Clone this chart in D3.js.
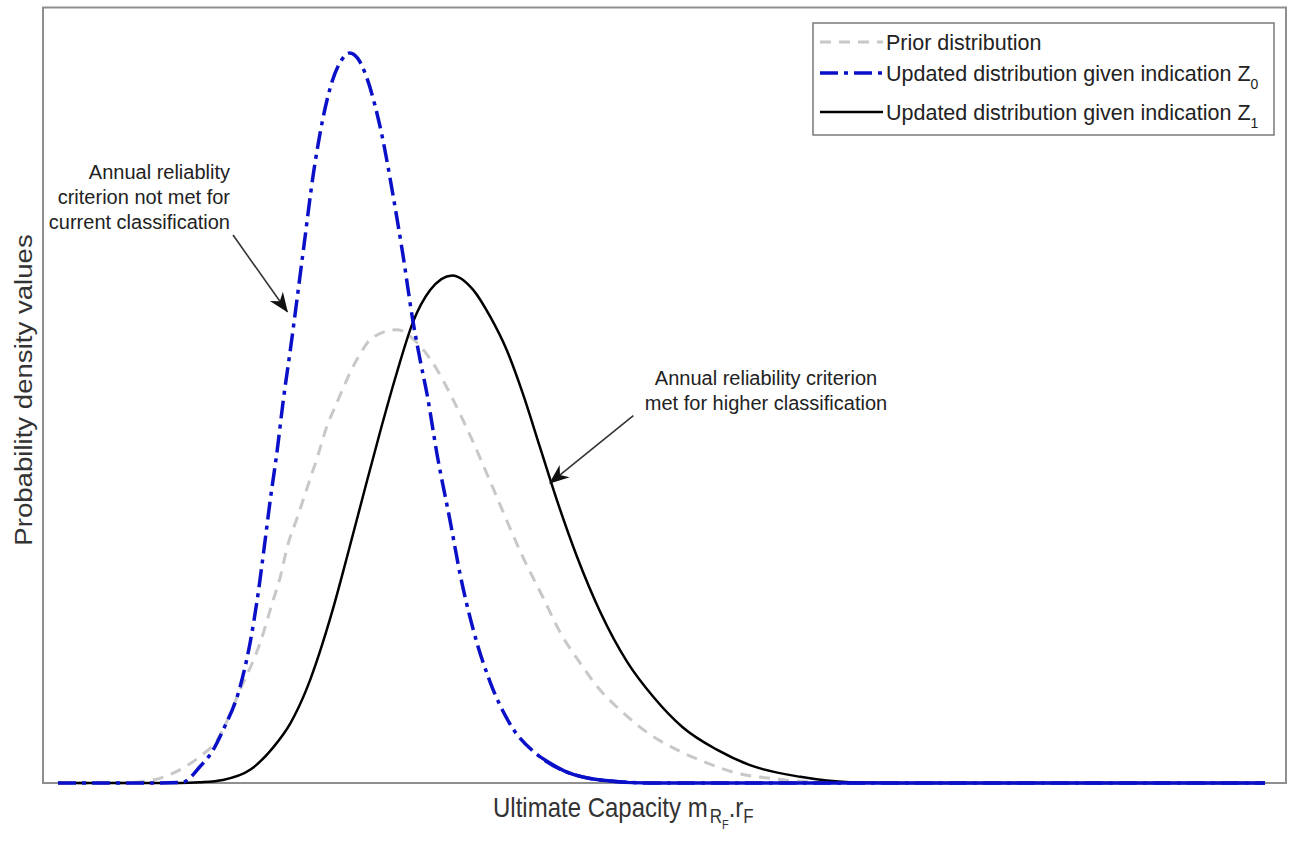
<!DOCTYPE html>
<html><head><meta charset="utf-8">
<script src="https://cdn.jsdelivr.net/npm/d3@7"></script>
<style>
html,body{margin:0;padding:0;background:#fff;}
svg{display:block;font-family:"Liberation Sans",Arial,Helvetica,sans-serif;}
</style></head>
<body>
<svg id="chart" width="1290" height="841"></svg>
<script>
// ---- data ----
const priorX = [0,0.62,0.91,1.21,1.41,1.58,1.81,2.01,2.13,2.21,2.28,2.38,2.48,2.58,2.67,2.77,2.97,3.13,3.37,3.57,3.77,3.93,4.13,4.32,4.49,4.62,4.82,4.99,5.19,5.39,5.59,5.86,6.15,6.45,6.71,7.08,7.58,8.07,12];
const priorY = [0,0,0.003,0.017,0.034,0.055,0.120,0.181,0.232,0.266,0.305,0.343,0.382,0.421,0.459,0.490,0.546,0.575,0.585,0.568,0.533,0.494,0.439,0.382,0.330,0.292,0.240,0.195,0.155,0.120,0.094,0.065,0.043,0.026,0.014,0.006,0.001,0,0];

const z0X = [0,1.0,1.24,1.41,1.53,1.64,1.81,1.91,1.98,2.06,2.11,2.18,2.24,2.31,2.44,2.54,2.63,2.73,2.82,2.90,2.98,3.07,3.15,3.23,3.33,3.43,3.53,3.60,3.67,3.77,3.90,4.00,4.13,4.30,4.49,4.79,5.06,5.39,5.89,12];
const z0Y = [0,0,0.001,0.021,0.040,0.068,0.124,0.181,0.236,0.314,0.365,0.430,0.494,0.559,0.688,0.787,0.855,0.907,0.933,0.942,0.935,0.910,0.875,0.830,0.759,0.681,0.595,0.546,0.501,0.423,0.337,0.268,0.197,0.129,0.077,0.034,0.014,0.004,0,0];

const z1X = [0,1.21,1.41,1.64,1.91,2.14,2.31,2.48,2.60,2.73,2.87,3.03,3.20,3.37,3.53,3.70,3.92,4.13,4.30,4.46,4.62,4.79,4.96,5.16,5.39,5.66,5.92,6.21,6.55,6.88,7.38,7.87,8.37,12];
const z1Y = [0,0,0.001,0.004,0.017,0.046,0.077,0.124,0.168,0.223,0.290,0.369,0.452,0.530,0.595,0.636,0.655,0.636,0.601,0.559,0.503,0.434,0.365,0.292,0.221,0.156,0.111,0.072,0.043,0.023,0.008,0.001,0,0];

const legendLabels = ["Prior distribution", "Updated distribution given indication Z", "Updated distribution given indication Z"];
const legendSubs = ["", "0", "1"];
const xLabel = "Ultimate Capacity m";
const yLabel = "Probability density values";
const note1 = ["Annual reliablity", "criterion not met for", "current classification"];
const note2 = ["Annual reliability criterion", "met for higher classification"];
// annotation anchors in data units [x, y]
const note1Arrow = {from:[1.74, 0.707], to:[2.28, 0.608]};
const note2Arrow = {from:[5.72, 0.474], to:[4.89, 0.387]};

// ---- layout ----
const svg = d3.select("#chart");
const frame = {left:43, right:1286, top:7.5, bottom:783};
const x = d3.scaleLinear().domain([0,12]).range([58,1265]);
const y = d3.scaleLinear().domain([0,1]).range([783,8]);

const defs = svg.append("defs");
defs.append("marker").attr("id","arr").attr("viewBox","0 0 20 20")
  .attr("refX",19).attr("refY",10).attr("markerWidth",20).attr("markerHeight",20)
  .attr("markerUnits","userSpaceOnUse").attr("orient","auto")
  .append("path").attr("d","M0,2 L20,10 L0,18 L6,10 Z").attr("fill","#111");

// frame
svg.append("rect").attr("x",frame.left).attr("y",frame.top)
  .attr("width",frame.right-frame.left).attr("height",frame.bottom-frame.top)
  .attr("fill","none").attr("stroke","#8f8f8f").attr("stroke-width",2);

const line = d3.line().x(d=>x(d[0])).y(d=>y(d[1])).curve(d3.curveMonotoneX);
const zip = (a,b)=>a.map((v,i)=>[v,b[i]]);
const prior = zip(priorX, priorY), z0 = zip(z0X, z0Y), z1 = zip(z1X, z1Y);

svg.append("path").attr("d",line(prior)).attr("fill","none")
  .attr("stroke","#c8c8c8").attr("stroke-width",3).attr("stroke-dasharray","11,8");
svg.append("path").attr("d",line(z1)).attr("fill","none")
  .attr("stroke","#000").attr("stroke-width",2.5);
svg.append("path").attr("d",line(z0)).attr("fill","none")
  .attr("stroke","#0a10c8").attr("stroke-width",3.5).attr("stroke-dasharray","18,6,4,6");
// tail of Z0 drawn solid along the baseline (as rendered in the reference)
svg.append("path").attr("d",line(z0.filter(d=>d[0]>=4.79))).attr("fill","none")
  .attr("stroke","#0a10c8").attr("stroke-width",3.5);

// legend
const lg = svg.append("g");
lg.append("rect").attr("x",813).attr("y",23).attr("width",461).attr("height",112)
  .attr("fill","#fff").attr("stroke","#7a7a7a").attr("stroke-width",1.5);
const rowsY = [42, 73, 112];
const styles = [
  {c:"#c8c8c8", w:3, da:"11,8"},
  {c:"#0a10c8", w:3.5, da:"18,6,4,6"},
  {c:"#000", w:2.5, da:null}
];
rowsY.forEach((ry,i)=>{
  const l = lg.append("line").attr("x1",820).attr("x2",883).attr("y1",ry).attr("y2",ry)
    .attr("stroke",styles[i].c).attr("stroke-width",styles[i].w);
  if(styles[i].da) l.attr("stroke-dasharray",styles[i].da);
  const t = lg.append("text").attr("x",886).attr("y",ry+7.5)
    .attr("font-size",21.5).attr("fill","#222").text(legendLabels[i]);
  if(legendSubs[i]) t.append("tspan").attr("font-size",14).attr("dy",8).text(legendSubs[i]);
});

// axis labels
const xl = svg.append("text").attr("transform","translate(493,817) scale(1,1.15)")
  .attr("font-size",24).attr("fill","#333");
xl.append("tspan").text(xLabel);
xl.append("tspan").attr("font-size",17).attr("dy",5).attr("dx",2).text("R");
xl.append("tspan").attr("font-size",11).attr("dy",5).attr("dx",0).text("F");
xl.append("tspan").attr("font-size",24).attr("dy",-10).text(".r");
xl.append("tspan").attr("font-size",17).attr("dy",5).text("F");

svg.append("text").attr("transform","translate(32,390) scale(1,1.15) rotate(-90)")
  .attr("text-anchor","middle").attr("font-size",24).attr("fill","#333").text(yLabel);

// annotations
const a1 = svg.append("text").attr("font-size",20).attr("fill","#222").attr("text-anchor","end");
note1.forEach((s,i)=>a1.append("tspan").attr("x",230).attr("y",179+i*25).text(s));
const a2 = svg.append("text").attr("font-size",20).attr("fill","#222").attr("text-anchor","middle");
note2.forEach((s,i)=>a2.append("tspan").attr("x",766).attr("y",385+i*25).text(s));

[note1Arrow, note2Arrow].forEach(a=>{
  svg.append("line").attr("x1",x(a.from[0])).attr("y1",y(a.from[1]))
    .attr("x2",x(a.to[0])).attr("y2",y(a.to[1]))
    .attr("stroke","#333").attr("stroke-width",1.6).attr("marker-end","url(#arr)");
});
</script>
</body></html>
